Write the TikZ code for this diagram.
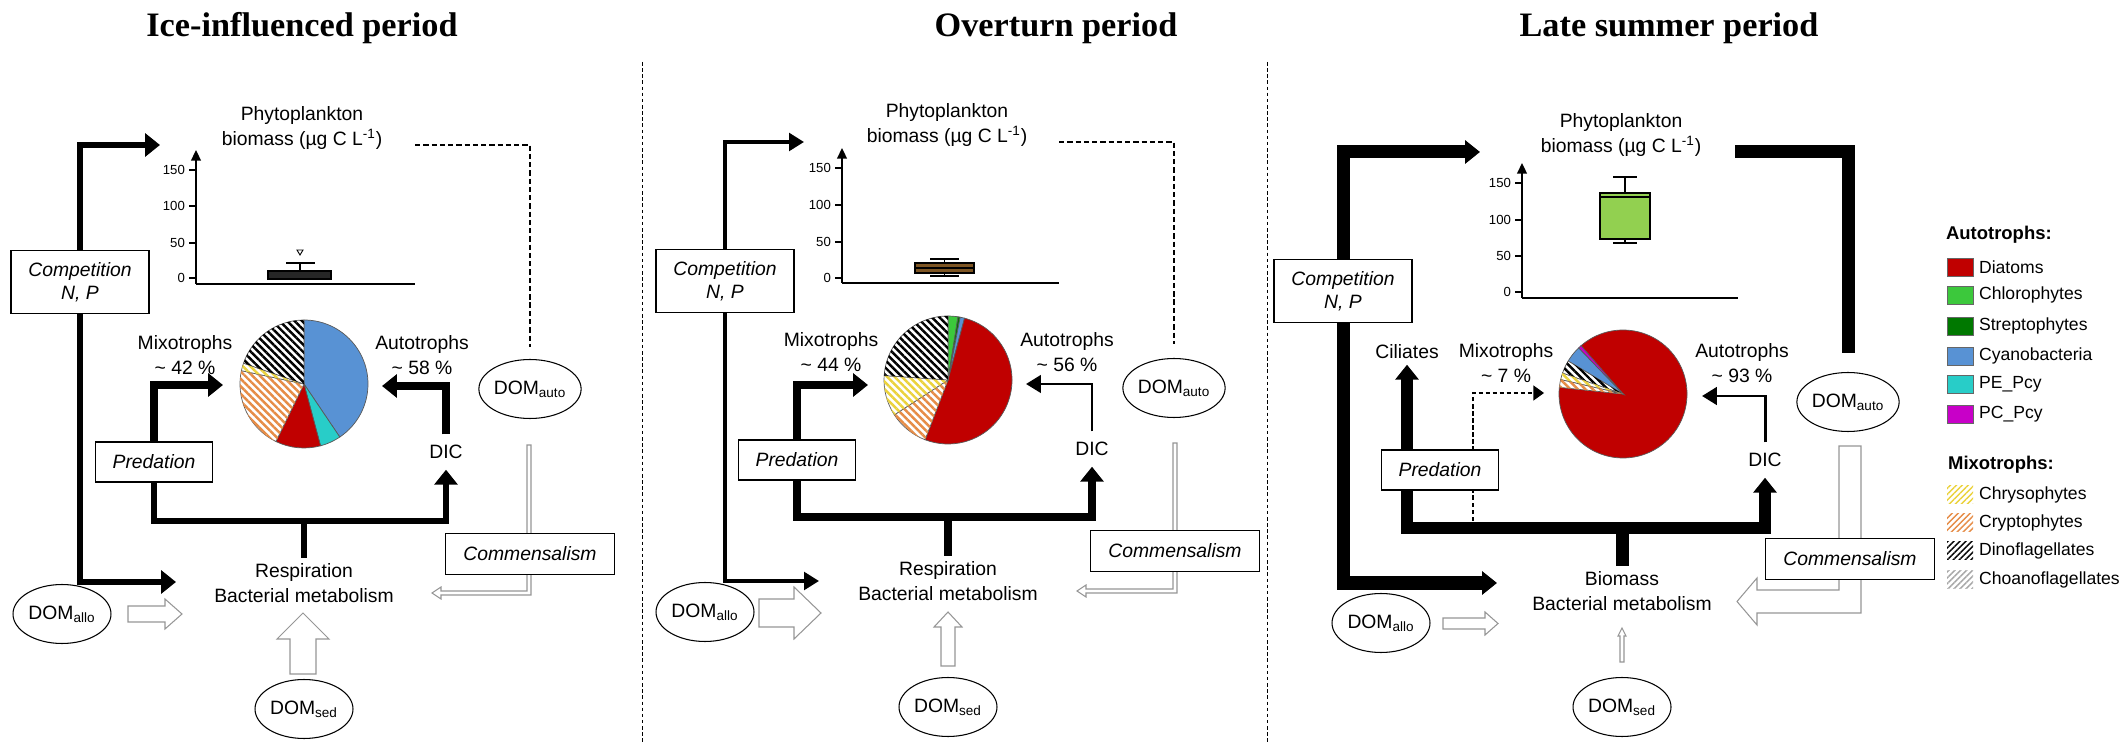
\documentclass[tikz,border=0pt]{standalone}
\usepackage{fontspec}
\setmainfont{Liberation Sans}
\newfontfamily\titlefont{Liberation Serif}
\usetikzlibrary{arrows.meta,shapes.geometric,patterns.meta}

\definecolor{diatom}{RGB}{192,0,0}
\definecolor{chloro}{RGB}{60,200,60}
\definecolor{strepto}{RGB}{0,120,0}
\definecolor{cyano}{RGB}{88,146,212}
\definecolor{pepcy}{RGB}{40,205,200}
\definecolor{pcpcy}{RGB}{200,0,200}
\definecolor{chryso}{RGB}{235,210,60}
\definecolor{crypto}{RGB}{230,140,70}
\definecolor{choano}{RGB}{165,165,165}
\definecolor{boxgreen}{RGB}{146,208,80}
\definecolor{boxbrown}{RGB}{125,85,35}
\definecolor{opengray}{RGB}{150,150,150}

\tikzset{
  headL/.tip={Triangle[length=8.5pt,width=13pt]},
  headM/.tip={Triangle[length=8.5pt,width=10pt]},
  headS/.tip={Triangle[length=6pt,width=8.5pt]},
  headA/.tip={Triangle[length=6pt,width=5.5pt]},
  hatchpie/.style={fill=white, postaction={pattern={Lines[angle=135,distance=3pt,line width=1.4pt]}, pattern color=#1}},
  hatchkey/.style={fill=white, postaction={pattern={Lines[angle=45,distance=2.4pt,line width=0.8pt]}, pattern color=#1}},
  sldia/.style={fill=diatom},
  slchl/.style={fill=chloro},
  slstr/.style={fill=strepto},
  slcya/.style={fill=cyano},
  slpe/.style={fill=pepcy},
  slpc/.style={fill=pcpcy},
  slchr/.style={hatchpie=chryso},
  slcry/.style={hatchpie=crypto},
  sldin/.style={hatchpie=black},
  kchr/.style={hatchkey=chryso},
  kcry/.style={hatchkey=crypto},
  kdin/.style={hatchkey=black},
  kcho/.style={hatchkey=choano},
}

\begin{document}
\begin{tikzpicture}[x=0.02cm, y=-0.02cm,
  every node/.style={font=\fontsize{11}{14}\selectfont, align=center},
  lab/.style={inner sep=3pt},
  ttl/.style={font=\titlefont\fontsize{19.5}{22}\selectfont\bfseries, anchor=base},
  compbox/.style={draw, fill=white, line width=0.8pt, font=\fontsize{11}{13}\selectfont\itshape, minimum width=2.76cm, minimum height=1.26cm},
  predbox/.style={draw, fill=white, line width=0.8pt, font=\fontsize{11}{13}\selectfont\itshape, minimum width=2.34cm, minimum height=0.8cm},
  commbox/.style={draw, fill=white, line width=0.8pt, font=\fontsize{11}{13}\selectfont\itshape, minimum width=3.38cm, minimum height=0.82cm},
  dom/.style={ellipse, draw, fill=white, line width=0.6pt, minimum width=1.96cm, minimum height=1.18cm, inner sep=0pt},
  dicnode/.style={inner sep=6pt},
  tick/.style={font=\fontsize{7.5}{9}\selectfont, anchor=east, inner sep=1pt},
  key/.style={font=\fontsize{10}{12}\selectfont, anchor=west, inner sep=1pt},
  keyhead/.style={font=\fontsize{10.5}{12}\selectfont\bfseries, anchor=west, inner sep=1pt},
  axis/.style={line width=1pt},
  axisarr/.style={line width=1pt, -headA},
  pieline/.style={draw=black!65, line width=0.4pt},
  openarr/.style={draw=opengray, fill=white, line width=0.6pt},
  sep/.style={dash pattern=on 2pt off 1.5pt, line width=0.5pt},
  dashflow/.style={dash pattern=on 3pt off 1.7pt, line width=1.1pt}]
\useasboundingbox (0,0) rectangle (2119,742);

\draw[sep] (642,62) -- (642,742);
\draw[sep] (1267,62) -- (1267,742);

% Ice-influenced period
\node[ttl] (ttl1) at (302,37) {Ice-influenced period};
\node[lab] (phy1) at (302,128) {Phytoplankton\\biomass (µg C L\textsuperscript{-1})};
\coordinate (p1o) at (196,284);
\draw[axisarr] (p1o) -- (196,150);
\draw[axis] (p1o) -- (415,284);
\foreach \v/\y in {0/278,50/243,100/206,150/170} {
  \draw[axis] (189,\y) -- (196,\y);
  \node[tick] (p1t\v) at (187,\y) {\v};
}
\filldraw[draw=black, fill=black!85, line width=0.6pt] (268,271) rectangle (331,279);
\draw[axis] (300,271) -- (300,263) (286,263) -- (315,263);
\draw[line width=0.5pt] (297,250) -- (303,250) -- (300,255) -- cycle;
\coordinate (pie1) at (304,384);
\begin{scope}[shift={(pie1)}, yscale=-1]
\foreach \a/\b/\s in {90/-56/slcya, -56/-75/slpe, -75/-116/sldia, 244/168/slcry, 168/161/slchr, 161/90/sldin}
  \draw[\s, pieline] (0,0) -- (\a:64) arc (\a:\b:64) -- cycle;
\end{scope}
\node[lab] (mix1) at (185,355) {Mixotrophs\\\textasciitilde\ 42 \%};
\node[lab] (aut1) at (422,355) {Autotrophs\\\textasciitilde\ 58 \%};
\node[compbox] (comp1) at (80,282) {Competition\\N, P};
\node[predbox] (pred1) at (154,462) {Predation};
\node[dicnode] (dic1) at (446,452) {DIC};
\node[lab] (res1) at (304,583) {Respiration\\Bacterial metabolism};
\node[dom] (domauto1) at (530,389) {DOM\textsubscript{auto}};
\node[dom] (domallo1) at (62,614) {DOM\textsubscript{allo}};
\node[dom] (domsed1) at (304,709) {DOM\textsubscript{sed}};
\coordinate (p1phyin) at (160,145);
\coordinate (p1resin) at (176,582);
\coordinate (mix1in) at (223,385);
\coordinate (aut1in) at (382,386);
\coordinate (stem1) at (304,521);
\coordinate (p1dash) at (415,145);
\draw[line width=3pt, -headL] (comp1) |- (p1phyin);
\draw[line width=3pt, -headL] (comp1) |- (p1resin);
\draw[line width=5pt, -headL] (pred1) |- (mix1in);
\draw[line width=3.5pt, -headL] (pred1) |- (stem1) -| (dic1);
\draw[line width=5pt, -headL] (dic1) |- (aut1in);
\draw[line width=3pt] (stem1) -- (res1);
\draw[dashflow, shorten >=0.24cm] (p1dash) -| (domauto1);
\draw[openarr] (128,606) -- (165,606) -- (165,599) -- (182,614) -- (165,629) -- (165,622) -- (128,622) -- cycle;
\draw[openarr] (290,674) -- (290,639) -- (277,639) -- (303,613) -- (329,639) -- (316,639) -- (316,674) -- cycle;
\draw[openarr] (527,445) -- (531,445) -- (531,595) -- (441,595) -- (441,599) -- (432,593) -- (441,587) -- (441,591) -- (527,591) -- cycle;
\node[commbox] (comm1) at (530,554) {Commensalism};

% Overturn period
\node[ttl] (ttl2) at (1056,37) {Overturn period};
\node[lab] (phy2) at (947,125) {Phytoplankton\\biomass (µg C L\textsuperscript{-1})};
\coordinate (p2o) at (842,283);
\draw[axisarr] (p2o) -- (842,148);
\draw[axis] (p2o) -- (1059,283);
\foreach \v/\y in {0/278,50/242,100/205,150/168} {
  \draw[axis] (835,\y) -- (842,\y);
  \node[tick] (p2t\v) at (833,\y) {\v};
}
\filldraw[draw=black, fill=boxbrown, line width=0.6pt] (915,263) rectangle (974,273);
\draw[line width=1.6pt] (915,268) -- (974,268);
\draw[axis] (944.5,263) -- (944.5,259) (930,259) -- (959,259);
\draw[axis] (944.5,273) -- (944.5,276) (930,276) -- (959,276);
\coordinate (pie2) at (948,380);
\begin{scope}[shift={(pie2)}, yscale=-1]
\foreach \a/\b/\s in {90/81/slchl, 81/79/slstr, 79/75/slcya, 75/-111/sldia, 249/213/slcry, 213/176/slchr, 176/90/sldin}
  \draw[\s, pieline] (0,0) -- (\a:64) arc (\a:\b:64) -- cycle;
\end{scope}
\node[lab] (mix2) at (831,352) {Mixotrophs\\\textasciitilde\ 44 \%};
\node[lab] (aut2) at (1067,352) {Autotrophs\\\textasciitilde\ 56 \%};
\node[compbox] (comp2) at (725,281) {Competition\\N, P};
\node[predbox] (pred2) at (797,460) {Predation};
\node[dicnode] (dic2) at (1092,449) {DIC};
\node[lab] (res2) at (948,581) {Respiration\\Bacterial metabolism};
\node[dom] (domauto2) at (1174,388) {DOM\textsubscript{auto}};
\node[dom] (domallo2) at (705,612) {DOM\textsubscript{allo}};
\node[dom] (domsed2) at (948,707) {DOM\textsubscript{sed}};
\coordinate (p2phyin) at (804,142);
\coordinate (p2resin) at (819,581);
\coordinate (mix2in) at (868,385);
\coordinate (aut2in) at (1026,384);
\coordinate (stem2) at (948,517);
\coordinate (p2dash) at (1059,142);
\draw[line width=2pt, -headM] (comp2) |- (p2phyin);
\draw[line width=2pt, -headM] (comp2) |- (p2resin);
\draw[line width=4.5pt, -headL] (pred2) |- (mix2in);
\draw[line width=5pt, -headL] (pred2) |- (stem2) -| (dic2);
\draw[line width=1.5pt, -headM] (dic2) |- (aut2in);
\draw[line width=5pt] (stem2) -- (res2);
\draw[dashflow, shorten >=0.27cm] (p2dash) -| (domauto2);
\draw[openarr] (759,599) -- (794,599) -- (794,587) -- (821,613) -- (794,639) -- (794,627) -- (759,627) -- cycle;
\draw[openarr] (941,666) -- (941,627) -- (934,627) -- (948,612) -- (962,627) -- (955,627) -- (955,666) -- cycle;
\draw[openarr] (1173,443) -- (1177,443) -- (1177,593) -- (1086,593) -- (1086,597) -- (1077,591) -- (1086,585) -- (1086,589) -- (1173,589) -- cycle;
\node[commbox] (comm2) at (1175,551) {Commensalism};

% Late summer period
\node[ttl] (ttl3) at (1669,37) {Late summer period};
\node[lab] (phy3) at (1621,135) {Phytoplankton\\biomass (µg C L\textsuperscript{-1})};
\coordinate (p3o) at (1522,298);
\draw[axisarr] (p3o) -- (1522,163);
\draw[axis] (p3o) -- (1738,298);
\foreach \v/\y in {0/292,50/256,100/220,150/183} {
  \draw[axis] (1515,\y) -- (1522,\y);
  \node[tick] (p3t\v) at (1513,\y) {\v};
}
\filldraw[draw=black, fill=boxgreen, line width=0.6pt] (1600,193) rectangle (1650,239);
\draw[line width=1.6pt] (1600,197) -- (1650,197);
\draw[axis] (1625,193) -- (1625,177) (1613,177) -- (1637,177);
\draw[axis] (1625,239) -- (1625,243) (1613,243) -- (1637,243);
\coordinate (pie3) at (1623,394);
\begin{scope}[shift={(pie3)}, yscale=-1]
\foreach \a/\b/\s in {131/-186/sldia, 131/134/slpc, 134/149/slcya, 149/161/sldin, 161/167/slchr, 167/174/slcry}
  \draw[\s, pieline] (0,0) -- (\a:64) arc (\a:\b:64) -- cycle;
\end{scope}
\node[lab] (cil3) at (1407,352) {Ciliates};
\node[lab] (mix3) at (1506,363) {Mixotrophs\\\textasciitilde\ 7 \%};
\node[lab] (aut3) at (1742,363) {Autotrophs\\\textasciitilde\ 93 \%};
\node[compbox] (comp3) at (1343,291) {Competition\\N, P};
\node[dicnode] (dic3) at (1765,460) {DIC};
\node[lab] (res3) at (1622,591) {Biomass\\Bacterial metabolism};
\node[dom] (domauto3) at (1848,402) {DOM\textsubscript{auto}};
\node[dom] (domallo3) at (1381,623) {DOM\textsubscript{allo}};
\node[dom] (domsed3) at (1622,707) {DOM\textsubscript{sed}};
\coordinate (p3phyin) at (1480,152);
\coordinate (p3resin) at (1497,583);
\coordinate (p3thick) at (1735,152);
\coordinate (stem3) at (1622,528);
\coordinate (mix3in) at (1544,393);
\coordinate (p3dash) at (1473,528);
\coordinate (aut3in) at (1702,396);
\draw[line width=7.4pt, -headL] (comp3) |- (p3phyin);
\draw[line width=7.4pt, -headL] (comp3) |- (p3resin);
\draw[line width=7.4pt, shorten >=0.38cm] (p3thick) -| (domauto3);
\draw[line width=6.8pt, headL-headL] (cil3) |- (stem3) -| (dic3);
\draw[line width=7.4pt] (stem3) -- (res3);
\draw[dash pattern=on 2.5pt off 1.5pt, line width=0.6pt, -headS] (p3dash) |- (mix3in);
\draw[line width=1.7pt, -headM] (dic3) |- (aut3in);
\node[predbox] (pred3) at (1440,470) {Predation};
\draw[openarr] (1443,618) -- (1485,618) -- (1485,612) -- (1498,623.5) -- (1485,635) -- (1485,629) -- (1443,629) -- cycle;
\draw[openarr] (1620,662) -- (1620,636) -- (1618,636) -- (1622,628) -- (1626,636) -- (1624,636) -- (1624,662) -- cycle;
\draw[openarr] (1839,446) -- (1861,446) -- (1861,613) -- (1757,613) -- (1757,625) -- (1737,601.5) -- (1757,578) -- (1757,590) -- (1839,590) -- cycle;
\node[commbox] (comm3) at (1850,559) {Commensalism};

% legend
\node[keyhead] (autkey) at (1944,235) {Autotrophs:};
\foreach \y/\s/\t in {267/sldia/Diatoms, 295/slchl/Chlorophytes, 326/slstr/Streptophytes, 356/slcya/Cyanobacteria, 384/slpe/PE\_Pcy, 414/slpc/PC\_Pcy} {
  \draw[\s, draw=black!60, line width=0.4pt] (1947,\y-9) rectangle (1973,\y+9);
  \node[key] (key\y) at (1977,\y) {\t};
}
\node[keyhead] (mixkey) at (1946,465) {Mixotrophs:};
\foreach \y/\s/\t in {495/kchr/Chrysophytes, 523/kcry/Cryptophytes, 551/kdin/Dinoflagellates, 580/kcho/Choanoflagellates} {
  \draw[\s, draw=none] (1947,\y-9) rectangle (1973,\y+9);
  \node[key] (key\y) at (1977,\y) {\t};
}
\end{tikzpicture}
\end{document}
